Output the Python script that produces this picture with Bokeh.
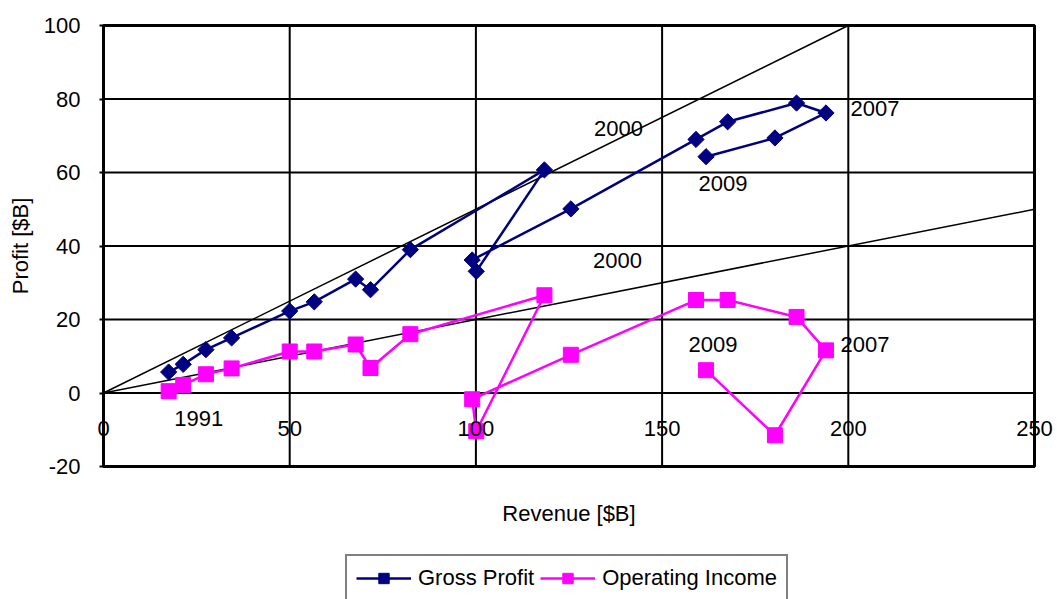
import math
from bokeh.plotting import figure
from bokeh.models import (Range1d, FixedTicker, Legend, LegendItem,
                          ColumnDataSource, PrintfTickFormatter)
from bokeh.core.properties import value
from bokeh.embed import file_html
from bokeh.resources import INLINE

# ---------------- data ----------------
years = list(range(1991, 2010))
revenue = [17.5, 21.4, 27.5, 34.4, 50.0, 56.6, 67.7, 71.7, 82.4, 118.4,
           100.1, 99.0, 125.5, 159.1, 167.6, 186.1, 194.0, 180.3, 161.8]
gross_profit = [5.7, 7.8, 11.8, 15.0, 22.3, 24.8, 31.0, 28.1, 39.0, 60.7,
                33.1, 36.2, 50.1, 69.0, 73.8, 78.9, 76.2, 69.4, 64.3]
operating_income = [0.5, 2.2, 5.1, 6.7, 11.3, 11.3, 13.2, 6.8, 16.0, 26.6,
                    -10.4, -1.7, 10.4, 25.3, 25.3, 20.7, 11.6, -11.5, 6.2]

# reference margin lines (50% and 20% of revenue)
ref_line_50_x = [0, 200]
ref_line_50_y = [0, 100]
ref_line_20_x = [0, 250]
ref_line_20_y = [0, 50]

x_ticks = [0, 50, 100, 150, 200, 250]
y_ticks = [-20, 0, 20, 40, 60, 80, 100]
X_MIN, X_MAX = 0, 250
Y_MIN, Y_MAX = -20, 100

# year annotations: (series, year, pixel dx, pixel dy)
annotations = [
    ("op", 1991, 30, 27),
    ("gp", 2000, 74, -41),
    ("op", 2000, 73, -35),
    ("gp", 2007, 49, -4),
    ("gp", 2009, 17, 27),
    ("op", 2009, 7, -26),
    ("op", 2007, 39, -6),
]

FONT = "Liberation Sans"
FS = "22px"

# ---------------- layout (pixels) ----------------
W, H = 1057, 599
BOX_L, BOX_R, BOX_T, BOX_B = 103, 1034, 25, 466
px_x = (BOX_R - BOX_L) / (X_MAX - X_MIN)
px_y = (BOX_B - BOX_T) / (Y_MAX - Y_MIN)
# the frame covers the whole canvas; the -20..100 / 0..250 box is drawn inside it
x_lo = X_MIN - BOX_L / px_x
x_hi = X_MAX + (W - BOX_R) / px_x
y_hi = Y_MAX + BOX_T / px_y
y_lo = Y_MIN - (H - BOX_B) / px_y

p = figure(width=W, height=H, output_backend="svg", toolbar_location=None,
           x_range=Range1d(x_lo, x_hi), y_range=Range1d(y_lo, y_hi),
           min_border_left=0, min_border_right=0, min_border_top=0,
           min_border_bottom=0)
p.background_fill_color = "white"
p.border_fill_color = "white"
p.outline_line_color = None
p.xgrid.visible = False
p.ygrid.visible = False

n_x, n_y = len(x_ticks), len(y_ticks)
# grid lines limited to the box
p.segment(x0=x_ticks, y0=[Y_MIN] * n_x, x1=x_ticks, y1=[Y_MAX] * n_x,
          line_color="black", line_width=2)
p.segment(x0=[X_MIN] * n_y, y0=y_ticks, x1=[X_MAX] * n_y, y1=y_ticks,
          line_color="black", line_width=2)
# box border
p.quad(left=[X_MIN], right=[X_MAX], bottom=[Y_MIN], top=[Y_MAX],
       fill_color=None, line_color="black", line_width=3)

# y axis on x = 0
ya = p.yaxis[0]
ya.fixed_location = X_MIN
ya.bounds = (Y_MIN, Y_MAX)
ya.ticker = FixedTicker(ticks=y_ticks)
ya.formatter = PrintfTickFormatter(format="%d")
ya.major_label_text_font = FONT
ya.major_label_text_font_size = FS
ya.major_label_text_color = "black"
ya.major_label_standoff = 19
ya.major_tick_out = 4
ya.major_tick_in = 0
ya.major_tick_line_color = "black"
ya.major_tick_line_width = 2
ya.minor_tick_line_color = None
ya.axis_line_color = "black"
ya.axis_line_width = 3

# x axis: tick labels under the zero line
xa = p.xaxis[0]
xa.fixed_location = 0
xa.ticker = FixedTicker(ticks=x_ticks)
xa.major_label_text_font = FONT
xa.major_label_text_font_size = FS
xa.major_label_text_color = "black"
xa.major_label_standoff = 28
xa.major_tick_in = 0
xa.major_tick_out = 0
xa.major_tick_line_color = None
xa.minor_tick_line_color = None
xa.axis_line_color = None

# axis titles
p.text(x=[(X_MIN + X_MAX) / 2], y=[Y_MIN], text=["Revenue [$B]"], y_offset=47,
       text_font=value(FONT), text_font_size=FS, text_color="black",
       text_align="center", text_baseline="middle")
p.text(x=[X_MIN], y=[(Y_MIN + Y_MAX) / 2], text=["Profit [$B]"], x_offset=-83,
       angle=math.pi / 2,
       text_font=value(FONT), text_font_size=FS, text_color="black",
       text_align="center", text_baseline="middle")

# reference lines
p.line(ref_line_50_x, ref_line_50_y, line_color="black", line_width=1.5)
p.line(ref_line_20_x, ref_line_20_y, line_color="black", line_width=1.5)

src = ColumnDataSource(dict(year=years, rev=revenue, gp=gross_profit, op=operating_income))

NAVY = "#000080"
MAG = "#FF00FF"
gl = p.line("rev", "gp", source=src, line_color=NAVY, line_width=2.5)
gm = p.scatter("rev", "gp", source=src, marker="square", size=11.5, angle=math.pi / 4,
               fill_color=NAVY, line_color=NAVY)
ol = p.line("rev", "op", source=src, line_color=MAG, line_width=2.5)
om = p.scatter("rev", "op", source=src, marker="square", size=15,
               fill_color=MAG, line_color=MAG)

# year annotations anchored on data points
for series, yr, dx, dy in annotations:
    i = years.index(yr)
    yv = gross_profit[i] if series == "gp" else operating_income[i]
    p.text(x=[revenue[i]], y=[yv], text=[str(yr)], x_offset=dx, y_offset=dy,
           text_font=value(FONT), text_font_size=FS, text_color="black",
           text_align="center", text_baseline="middle")

legend = Legend(items=[LegendItem(label="Gross Profit", renderers=[gl, gm]),
                       LegendItem(label="Operating Income", renderers=[ol, om])],
                orientation="horizontal", location=(345, -3))
legend.label_text_font = FONT
legend.label_text_font_size = FS
legend.label_text_color = "black"
legend.glyph_width = 55
legend.glyph_height = 26
legend.label_standoff = 7
legend.spacing = 6
legend.padding = 9
legend.margin = 0
legend.border_line_color = "black"
legend.border_line_width = 2
legend.background_fill_color = "white"
legend.background_fill_alpha = 1
p.add_layout(legend, "center")

open("out.html", "w").write(file_html(p, INLINE))
